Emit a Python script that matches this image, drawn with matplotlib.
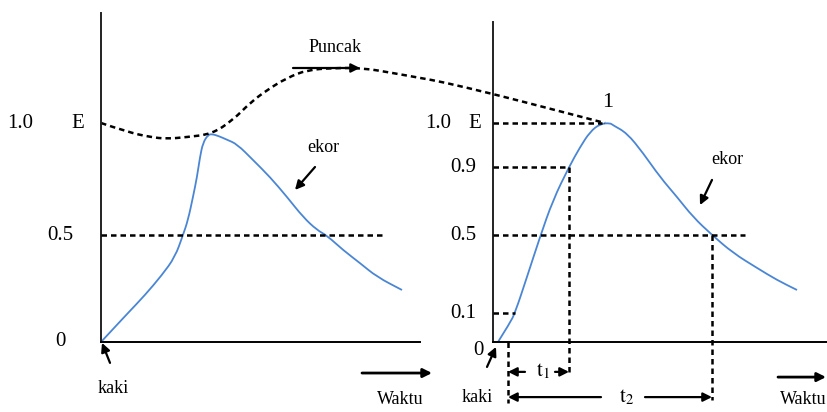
import numpy as np
import matplotlib.pyplot as plt
from matplotlib.path import Path
from matplotlib.patches import PathPatch

plt.rcParams['font.family'] = 'Liberation Serif'
plt.rcParams['mathtext.fontset'] = 'stix'

# the sketch is not drawn to a linear scale: level -> height above the base line
LEVELS = [-1.0, 0.0, 0.1, 0.5, 0.9, 1.0, 2.0]
HEIGHTS = [-290, 0, 29, 107, 175, 219, 439]

def fwd(v):
    return np.interp(v, LEVELS, HEIGHTS)

def inv(h):
    return np.interp(h, HEIGHTS, LEVELS)

# left hydrograph (time, relative value)
left_t = [0, 1.4, 2.7, 4.4, 6.1, 7.4, 8.2, 8.7, 9.2, 9.6, 9.9, 10.2, 10.7, 11.1, 11.8,
          12.6, 13.6, 15.2, 16.9, 18.6, 20.2, 21.6, 22.6, 24.2, 25.9, 27.6, 30.1]
left_v = [0, 0.052, 0.1, 0.192, 0.295, 0.387, 0.5, 0.588, 0.724, 0.841, 0.923, 0.955,
          0.973, 0.975, 0.97, 0.962, 0.952, 0.916, 0.841, 0.724, 0.606, 0.529, 0.497,
          0.423, 0.356, 0.285, 0.218]

# right hydrograph (own time origin)
right_t = [0.5, 1.7, 2.2, 3.4, 4.7, 6.0, 7.6, 8.7, 9.7, 10.7, 11.7, 12.0, 13.4, 15.0,
           16.7, 18.4, 20.0, 21.9, 24.0, 26.4, 28.4, 30.4]
right_v = [0, 0.066, 0.1, 0.285, 0.49, 0.706, 0.9, 0.945, 0.98, 0.998, 1.0, 0.995, 0.977,
           0.932, 0.841, 0.724, 0.606, 0.5, 0.408, 0.331, 0.269, 0.218]

# dashed envelope joining the peaks
env_t = [0, 2.6, 4.9, 6.6, 8.6, 11.1, 13.2, 14.9, 16.6, 18.6, 20.6, 23.2, 26.2, 29.2,
         31.9, 34.2, 39.2, 44.9, 50.4]
env_v = [1.0, 0.98, 0.968, 0.964, 0.968, 0.975, 1.014, 1.091, 1.15, 1.205, 1.241, 1.25,
         1.25, 1.227, 1.205, 1.186, 1.132, 1.065, 1.0]

T0 = 39.2          # origin of right panel
t1 = (1.5, 7.6)    # 0.1 -> 0.9 on the rise
t2_end = 21.9      # 0.5 on the recession
t_peak = 11.5

BLUE = '#4a86d4'
DASH = (0, (2.2, 1.6))

fig = plt.figure(figsize=(8.27, 4.12), dpi=100)
ax = fig.add_axes([0, 0, 1, 1])
ax.set_yscale('function', functions=(fwd, inv))
ax.set_xlim(-10.1, 72.6)
ax.set_ylim(inv(-70), inv(342))
ax.axis('off')


def smooth(t, v, **kw):
    # quadratic bezier through the read points, midpoints taken in drawn (scaled) space
    t = np.asarray(t, float)
    v = np.asarray(v, float)
    verts = [(t[0], v[0])]
    codes = [Path.MOVETO]
    for i in range(1, len(t) - 1):
        mt = (t[i] + t[i + 1]) / 2
        mv = inv((fwd(v[i]) + fwd(v[i + 1])) / 2)
        verts += [(t[i], v[i]), (mt, mv)]
        codes += [Path.CURVE3, Path.CURVE3]
    verts.append((t[-1], v[-1]))
    codes.append(Path.LINETO)
    ax.add_patch(PathPatch(Path(verts, codes), fill=False, **kw))


# axes lines
ax.plot([0, 0], [0, 1.5], color='#222222', lw=1.4)
ax.plot([0, 31.9], [0, 0], color='k', lw=1.4)
ax.plot([T0, T0], [0, 1.46], color='#222222', lw=1.4)
ax.plot([T0, 72.6], [0, 0], color='k', lw=1.4)

# curves
smooth(left_t, left_v, edgecolor=BLUE, lw=1.3)
smooth(np.array(right_t) + T0, right_v, edgecolor=BLUE, lw=1.3)
smooth(env_t, env_v, edgecolor='k', lw=1.8, ls=DASH)

# dashed guide lines
guide = dict(color='k', lw=1.8, ls=DASH)
ax.plot([0, 28.4], [0.5, 0.5], **guide)
ax.plot([T0, T0 + 10.9], [1.0, 1.0], **guide)
ax.plot([T0, T0 + t1[1]], [0.9, 0.9], **guide)
ax.plot([T0, T0 + 25.2], [0.5, 0.5], **guide)
ax.plot([T0, T0 + 2.2], [0.1, 0.1], **guide)
ax.plot([T0 + t1[0], T0 + t1[0]], [0, -0.21], **guide)
ax.plot([T0 + t1[1], T0 + t1[1]], [0.9, -0.114], **guide)
ax.plot([T0 + t2_end, T0 + t2_end], [0.5, -0.2], **guide)

def arrow(tail, head, lw=1.6, ms=13):
    ax.annotate('', xy=head, xytext=tail,
                arrowprops=dict(arrowstyle='-|>', color='k', lw=lw,
                                mutation_scale=ms, shrinkA=0, shrinkB=0))

# left labels
ax.text(-8.1, 1.0, '1.0', fontsize=15, ha='center', va='center')
ax.text(-2.3, 1.0, 'E', fontsize=15, ha='center', va='center')
ax.text(-4.1, 0.5, '0.5', fontsize=15, ha='center', va='center')
ax.text(-4.1, 0.0, '0', fontsize=15, ha='center', va='center')
ax.text(23.4, 1.345, 'Puncak', fontsize=13, ha='center', va='center')
arrow((19.2, 1.25), (25.9, 1.25))
ax.text(22.2, 0.945, 'ekor', fontsize=13, ha='center', va='center')
arrow((21.4, 0.9), (19.4, 0.765))
arrow((0.9, -0.072), (0.1, -0.003))
ax.text(1.2, -0.159, 'kaki', fontsize=13, ha='center', va='center')
arrow((26.1, -0.107), (33.1, -0.107), lw=2)
ax.text(29.9, -0.2, 'Waktu', fontsize=13, ha='center', va='center')

# right labels
ax.text(33.7, 1.0, '1.0', fontsize=15, ha='center', va='center')
ax.text(37.4, 1.0, 'E', fontsize=15, ha='center', va='center')
ax.text(36.2, 0.9, '0.9', fontsize=15, ha='center', va='center')
ax.text(36.2, 0.5, '0.5', fontsize=15, ha='center', va='center')
ax.text(36.2, 0.1, '0.1', fontsize=15, ha='center', va='center')
ax.text(37.7, -0.028, '0', fontsize=15, ha='center', va='center')
ax.text(T0 + t_peak, 1.095, '1', fontsize=16, ha='center', va='center')
ax.text(62.6, 0.916, 'ekor', fontsize=13, ha='center', va='center')
arrow((61.1, 0.824), (59.9, 0.676))
arrow((38.6, -0.086), (39.5, -0.017))
ax.text(37.6, -0.19, 'kaki', fontsize=13, ha='center', va='center')
arrow((67.7, -0.121), (72.5, -0.121), lw=2)
ax.text(67.9, -0.2, 'Waktu', fontsize=13, ha='left', va='center')

# t1 / t2 spans
arrow((42.4, -0.103), (T0 + t1[0], -0.103))
arrow((45.4, -0.103), (T0 + t1[1], -0.103))
ax.text(44.2, -0.1, r'$\mathrm{t}_1$', fontsize=15, ha='center', va='center')
arrow((50.0, -0.19), (T0 + t1[0], -0.19))
arrow((54.4, -0.19), (T0 + t2_end, -0.19))
ax.text(52.6, -0.19, r'$\mathrm{t}_2$', fontsize=15, ha='center', va='center')

fig.savefig('out.png', dpi=100)
